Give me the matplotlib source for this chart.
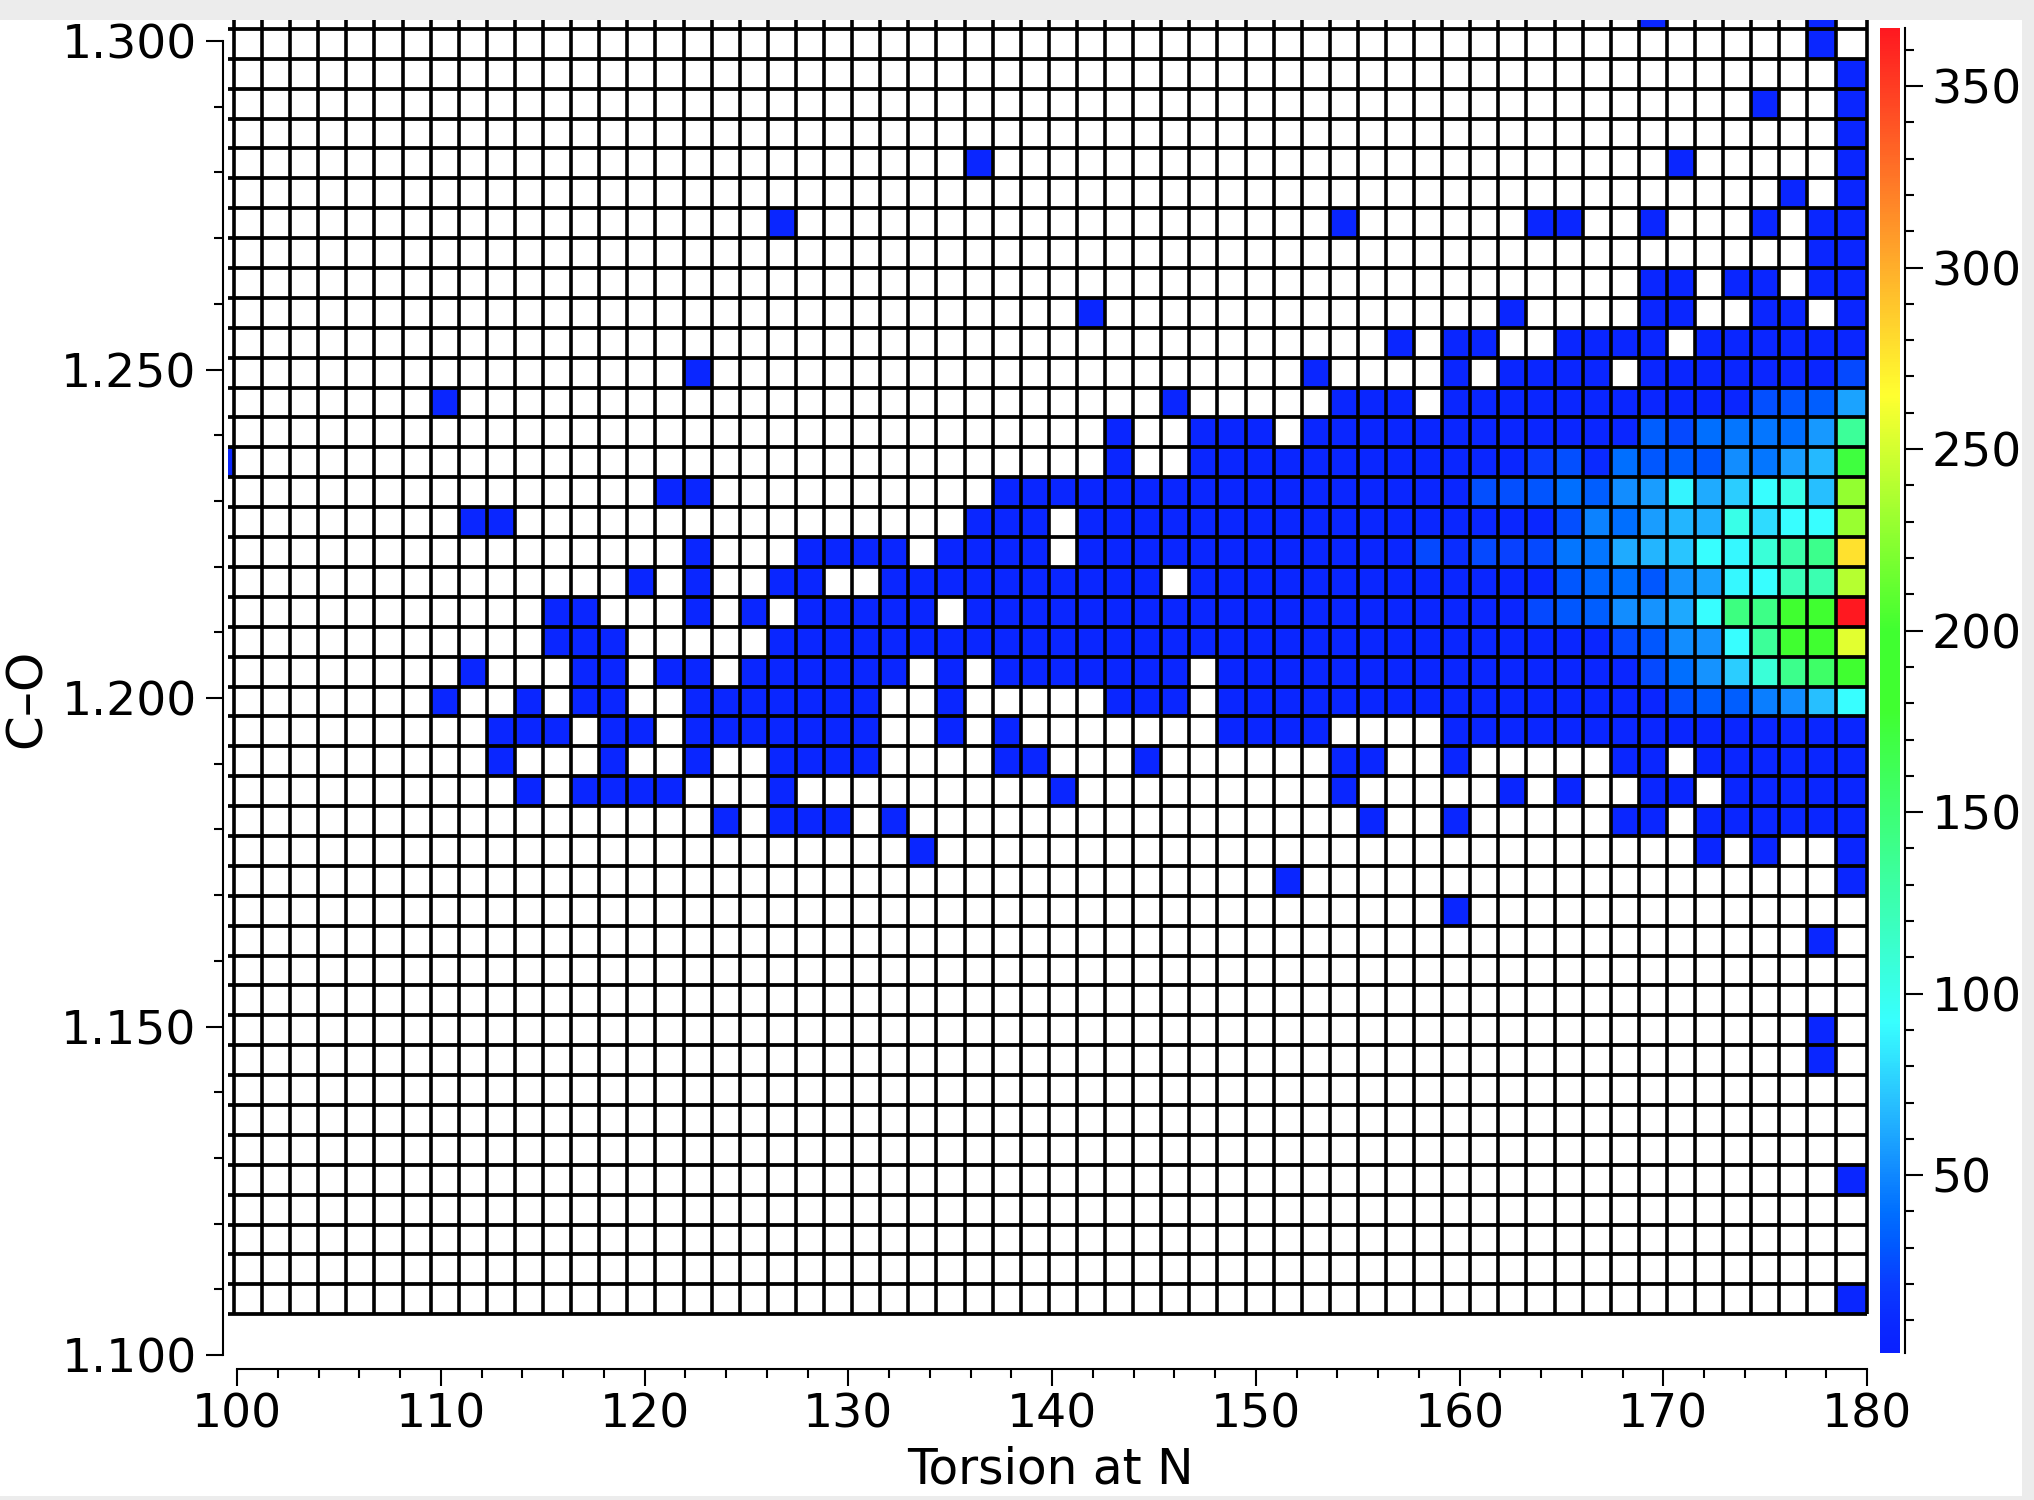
import numpy as np
import matplotlib
matplotlib.use('Agg')
import matplotlib.pyplot as plt
from matplotlib.colors import LinearSegmentedColormap, Normalize
from matplotlib.patches import Rectangle
from matplotlib.ticker import MultipleLocator, FixedLocator

W, H = 2034, 1500

def r(a, b):
    return list(range(a, b + 1))

# histogram bins, row 0 is the top row (cut off by the axes), column 0 the cut off left one
n_rows = 44
n_cols = 59
y_start = 1.1062
y_step = 0.00455
x_left = 99.56
x_start = 99.853
x_step = 1.379
x_end = 180.0

# occupied cells by row, low counts
occupied = {
    0: [51, 57],
    1: [57],
    2: [58],
    3: [55, 58],
    4: [58],
    5: [27, 52, 58],
    6: [56, 58],
    7: [20, 40, 47, 48, 51, 55, 57, 58],
    8: [57, 58],
    9: [51, 52, 54, 55, 57, 58],
    10: [31, 46, 51, 52, 55, 56, 58],
    11: [42, 44, 45, 48, 49, 50, 51] + r(53, 58),
    12: [17, 39, 44] + r(46, 49) + r(51, 58),
    13: [8, 34] + r(40, 42) + r(44, 58),
    14: [32, 35, 36, 37] + r(39, 58),
    15: [0, 32] + r(35, 58),
    16: [16, 17] + r(28, 58),
    17: [9, 10, 27, 28, 29] + r(31, 58),
    18: [17] + r(21, 24) + r(26, 29) + r(31, 58),
    19: [15, 17, 20, 21] + r(24, 33) + r(35, 58),
    20: [12, 13, 17, 19] + r(21, 25) + r(27, 58),
    21: [12, 13, 14] + r(20, 58),
    22: [9, 13, 14, 16, 17] + r(19, 24) + [26] + r(28, 34) + r(36, 58),
    23: [8, 11, 13, 14] + r(17, 23) + [26, 32, 33, 34] + r(36, 58),
    24: [10, 11, 12, 14, 15] + r(17, 23) + [26, 28] + r(36, 39) + r(44, 58),
    25: [10, 14, 17] + r(20, 23) + [28, 29, 33, 40, 41, 44, 50, 51] + r(53, 58),
    26: [11] + r(13, 16) + [20, 30, 40, 46, 48, 51, 52] + r(54, 58),
    27: [18, 20, 21, 22, 24, 41, 44, 50, 51] + r(53, 58),
    28: [25, 53, 55, 58],
    29: [38, 58],
    30: [44],
    31: [57],
    34: [57],
    35: [57],
    39: [58],
    43: [58],
}
low_count = 6

# larger counts, first value is column start_col, by row
high_counts = {
    12: (58, [25]),
    13: (55, [27, 29, 33, 60]),
    14: (51, [33, 25, 40, 43, 43, 40, 56, 135]),
    15: (47, [20, 27, 10, 40, 30, 33, 30, 52, 43, 58, 68, 172]),
    16: (45, [27, 27, 29, 40, 33, 52, 58, 88, 63, 75, 92, 102, 70, 228]),
    17: (48, [27, 48, 40, 58, 66, 64, 102, 80, 92, 92, 230]),
    18: (43, [25, 12, 25, 22, 25, 43, 43, 63, 66, 72, 92, 90, 108, 128, 140, 278]),
    19: (48, [30, 36, 40, 30, 54, 60, 90, 92, 122, 125, 240]),
    20: (47, [25, 30, 33, 52, 54, 62, 92, 145, 142, 185, 185, 366]),
    21: (50, [25, 30, 52, 54, 92, 135, 185, 185, 255]),
    22: (51, [25, 40, 54, 75, 108, 140, 155, 185]),
    23: (52, [27, 33, 33, 46, 52, 70, 92]),
}

y_ticks = [1.1, 1.15, 1.2, 1.25, 1.3]
y_tick_labels = ['1.100', '1.150', '1.200', '1.250', '1.300']
x_ticks = [100, 110, 120, 130, 140, 150, 160, 170, 180]
bar_ticks = [50, 100, 150, 200, 250, 300, 350]
count_min, count_max = 1, 366

counts = np.full((n_rows, n_cols), np.nan)
for row, cols in occupied.items():
    counts[row, cols] = low_count
for row, (start_col, vals) in high_counts.items():
    counts[row, start_col:start_col + len(vals)] = vals
counts = np.ma.masked_invalid(counts[::-1])

x_edges = np.r_[x_left, x_start + x_step * np.arange(n_cols - 1), x_end]
y_edges = y_start + y_step * np.arange(n_rows + 1)

def stop(v):
    return (v - count_min) / (count_max - count_min)

cmap = LinearSegmentedColormap.from_list('heat', [
    (0, '#0a20ff'), (stop(10), '#0a2aff'), (stop(20), '#0a3cff'), (stop(30), '#0058ff'),
    (stop(40), '#0070ff'), (stop(50), '#1088ff'), (stop(70), '#28c0ff'), (stop(92), '#38ffff'),
    (stop(178), '#40ff30'), (stop(200), '#40ff30'), (stop(265), '#ffff30'), (1, '#ff1820')], N=512)
cmap.set_bad('white')
norm = Normalize(count_min, count_max)

plt.rcParams['font.family'] = ['DejaVu Sans']

fig = plt.figure(figsize=(W / 100, H / 100), dpi=100, facecolor='white')

def px_axes(x0, y0, x1, y1):
    return fig.add_axes([x0 / W, 1 - y1 / H, (x1 - x0) / W, (y1 - y0) / H])

ax = px_axes(223, 20, 1870, 1355)
ax.set_xlim(100 + (223 - 237) / 20.375, 100 + (1870 - 237) / 20.375)
ax.set_ylim(1.1, 1.3032)

ax.pcolormesh(x_edges, y_edges, counts, cmap=cmap, norm=norm, antialiased=False, linewidth=0)
ax.vlines(x_edges[1:], y_edges[0], y_edges[-1], color='black', lw=2.6, zorder=3)
ax.hlines(y_edges, x_left, x_end, color='black', lw=2.7, zorder=3)

ax.spines['top'].set_visible(False)
ax.spines['right'].set_visible(False)
ax.spines['left'].set_bounds(1.1, 1.3)
ax.spines['bottom'].set_bounds(100, 180)
ax.spines['bottom'].set_position(('outward', 14 * 0.72))
for s in ['left', 'bottom']:
    ax.spines[s].set_linewidth(1.5)

ax.set_xticks(x_ticks)
ax.xaxis.set_minor_locator(MultipleLocator(2))
ax.set_yticks(y_ticks)
ax.set_yticklabels(y_tick_labels)
ax.yaxis.set_minor_locator(MultipleLocator(0.01))
ax.tick_params(axis='x', which='major', length=12, width=1.5, pad=5, labelsize=34)
ax.tick_params(axis='y', which='major', length=12, width=1.5, pad=7, labelsize=34)
ax.tick_params(which='minor', length=6.5, width=1.5)

fig.text(1050 / W, 1 - 1470 / H, 'Torsion at N', ha='center', va='center', fontsize=35)
fig.text(27 / W, 1 - 698 / H, 'C\u2013O', ha='center', va='center', rotation=90, fontsize=36)

# colour bar and its separate scale line
cax = px_axes(1880, 28, 1900, 1353)
sm = plt.cm.ScalarMappable(norm=norm, cmap=cmap)
cb = fig.colorbar(sm, cax=cax)
cb.outline.set_visible(False)
cb.set_ticks([])
cb.minorticks_off()

sax = px_axes(1904, 28, 1905, 1353)
sax.set_ylim(count_min, count_max)
sax.set_xticks([])
sax.patch.set_visible(False)
for s in ['top', 'left', 'bottom']:
    sax.spines[s].set_visible(False)
sax.spines['right'].set_linewidth(1.5)
sax.yaxis.tick_right()
sax.set_yticks(bar_ticks)
sax.yaxis.set_minor_locator(FixedLocator([v for v in range(10, 361, 10) if v % 50]))
sax.tick_params(which='major', length=13, width=1.5, pad=6, labelsize=34)
sax.tick_params(which='minor', length=6.5, width=1.5)

# grey window edge
for x0, y0, x1, y1 in [(0, 0, W, 20), (2022, 0, W, H), (0, 1496, W, H)]:
    fig.add_artist(Rectangle((x0 / W, 1 - y1 / H), (x1 - x0) / W, (y1 - y0) / H,
                             transform=fig.transFigure, color='#ececec', lw=0))

fig.savefig('out.png', dpi=100)
